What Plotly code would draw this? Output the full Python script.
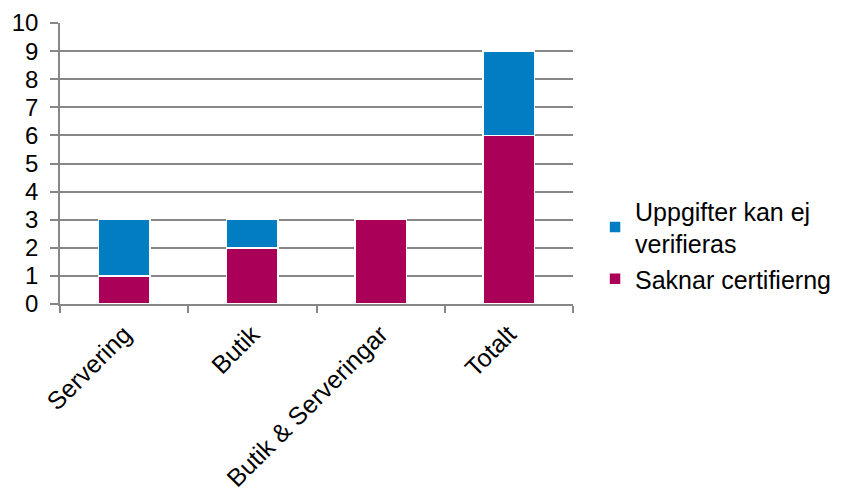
import plotly.graph_objects as go

categories = ["Servering", "Butik", "Butik & Serveringar", "Totalt"]
saknar = [1, 2, 3, 6]
uppgifter = [2, 1, 0, 3]
y_ticks = list(range(0, 11))

fig = go.Figure()
fig.add_trace(go.Bar(
    x=categories, y=saknar, name="Saknar certifierng",
    marker=dict(color="#AA0058", line=dict(color="white", width=1.5)),
))
fig.add_trace(go.Bar(
    x=categories, y=uppgifter, name="Uppgifter kan ej<br>verifieras",
    marker=dict(color="#007DC3", line=dict(color="white", width=1.5)),
))

font = "Liberation Sans, Arial, sans-serif"
fig.update_layout(
    barmode="stack",
    bargap=0.6,
    width=842, height=495,
    margin=dict(l=60, r=269, t=23, b=191),
    plot_bgcolor="white", paper_bgcolor="white",
    font=dict(family=font, size=24, color="#000000"),
    legend=dict(
        traceorder="reversed",
        xref="container", yref="container",
        x=0.7067, y=0.505, xanchor="left", yanchor="middle",
        font=dict(size=25),
        itemwidth=30,
        tracegroupgap=15,
    ),
    xaxis=dict(
        type="category",
        tickangle=-45,
        tickson="boundaries",
        ticks="outside", ticklen=7, tickcolor="#878787", tickwidth=1.5,
        ticklabelstandoff=4,
        showline=True, linecolor="#878787", linewidth=1.5,
        showgrid=False,
        automargin=False,
        tickfont=dict(size=25),
    ),
    yaxis=dict(
        range=[0, 10],
        tickvals=y_ticks,
        ticks="outside", ticklen=8, tickcolor="#878787", tickwidth=1.5,
        ticklabelstandoff=7,
        showline=True, linecolor="#878787", linewidth=1.5,
        showgrid=True, gridcolor="#878787", gridwidth=1.5,
        zeroline=False,
        automargin=False,
        tickfont=dict(size=24),
    ),
)

fig.write_html("out.html")
